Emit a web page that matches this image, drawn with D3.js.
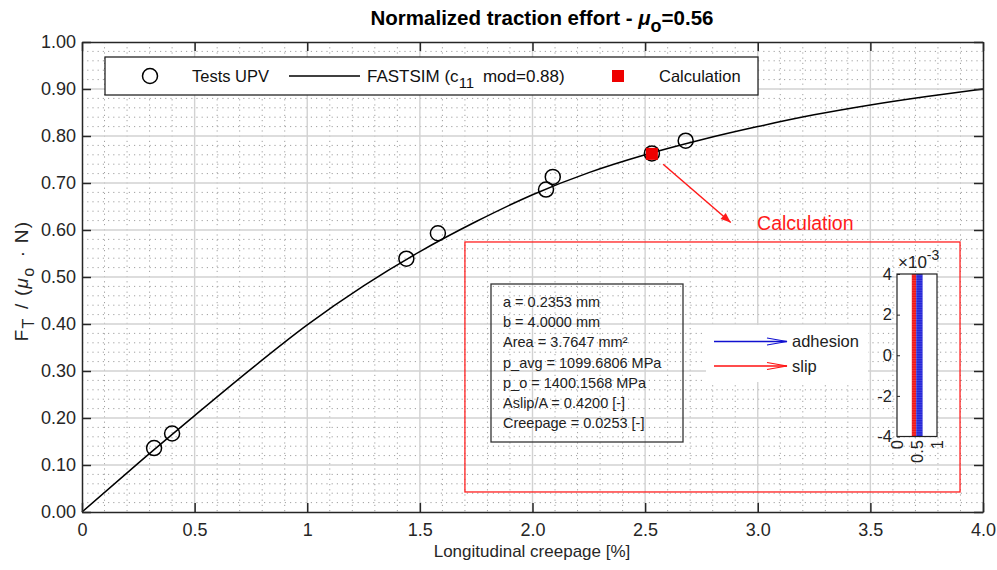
<!DOCTYPE html>
<html>
<head>
<meta charset="utf-8">
<script src="https://cdn.jsdelivr.net/npm/d3@7"></script>
<style>
  body { margin: 0; background: #fff; }
  svg { display: block; font-family: "Liberation Sans", Arial, sans-serif; }
</style>
</head>
<body>
<svg id="chart" width="997" height="570"></svg>
<script>
// --- data ---
const fastsimX = [0, 0.25, 0.5, 0.75, 1.0, 1.25, 1.5, 1.75, 2.0, 2.25, 2.5, 2.75, 3.0, 3.25, 3.5, 3.75, 4.0];
const fastsimY = [0, 0.104, 0.205, 0.304, 0.398, 0.481, 0.554, 0.618, 0.675, 0.722, 0.760, 0.792, 0.820, 0.845, 0.866, 0.884, 0.900];

const testX = [0.32, 0.40, 1.44, 1.58, 2.06, 2.09, 2.53, 2.68];
const testY = [0.136, 0.167, 0.539, 0.593, 0.686, 0.713, 0.763, 0.790];

const calcX = [2.53];
const calcY = [0.762];

const xTicks = [0, 0.5, 1, 1.5, 2, 2.5, 3, 3.5, 4];
const xTickLabels = ["0", "0.5", "1", "1.5", "2.0", "2.5", "3.0", "3.5", "4.0"];
const yTicks = [0, 0.1, 0.2, 0.3, 0.4, 0.5, 0.6, 0.7, 0.8, 0.9, 1.0];
const yTickLabels = ["0.00", "0.10", "0.20", "0.30", "0.40", "0.50", "0.60", "0.70", "0.80", "0.90", "1.00"];

const infoLines = [
  "a = 0.2353 mm",
  "b = 4.0000 mm",
  "Area = 3.7647 mm²",
  "p_avg = 1099.6806 MPa",
  "p_o = 1400.1568 MPa",
  "Aslip/A = 0.4200 [-]",
  "Creepage = 0.0253 [-]"
];

// contact patch inset: slip / adhesion bands (x in [0,1], y in m)
const slipBand = [0.37, 0.48];
const adhesionBand = [0.48, 0.64];
const patchY = [-0.004, 0.004];
const insetYTicks = [-0.004, -0.002, 0, 0.002, 0.004];
const insetYTickLabels = ["-4", "-2", "0", "2", "4"];
const insetXTicks = [0, 0.5, 1];
const insetXTickLabels = ["0", "0.5", "1"];

// --- layout ---
const plotL = 82, plotR = 983, plotT = 42, plotB = 512;
const axisColor = "#262626";

const svg = d3.select("#chart");

const x = d3.scaleLinear().domain([0, 4]).range([plotL, plotR]);
const y = d3.scaleLinear().domain([0, 1]).range([plotB, plotT]);

// grids
const grid = svg.append("g");
grid.selectAll(".minx")
  .data(d3.range(0, 4.0001, 0.1).filter((d) => Math.abs(d * 2 - Math.round(d * 2)) > 1e-6))
  .join("line")
  .attr("x1", (d) => x(d)).attr("x2", (d) => x(d))
  .attr("y1", plotT).attr("y2", plotB)
  .attr("stroke", "#a0a0a0").attr("stroke-dasharray", "1.2,4");
grid.selectAll(".miny")
  .data(d3.range(0, 1.0001, 0.02).filter((d) => Math.abs(d * 10 - Math.round(d * 10)) > 1e-6))
  .join("line")
  .attr("x1", plotL).attr("x2", plotR)
  .attr("y1", (d) => y(d)).attr("y2", (d) => y(d))
  .attr("stroke", "#a0a0a0").attr("stroke-dasharray", "1.2,4");
grid.selectAll(".majx")
  .data(xTicks.slice(1, -1))
  .join("line")
  .attr("x1", (d) => x(d)).attr("x2", (d) => x(d))
  .attr("y1", plotT).attr("y2", plotB)
  .attr("stroke", "#d2d2d2").attr("stroke-width", 1.4);
grid.selectAll(".majy")
  .data(yTicks.slice(1, -1))
  .join("line")
  .attr("x1", plotL).attr("x2", plotR)
  .attr("y1", (d) => y(d)).attr("y2", (d) => y(d))
  .attr("stroke", "#d2d2d2").attr("stroke-width", 1.4);

// --- annotation: red frame with contact patch details ---
const frame = { x0: 1.70, x1: 3.898, y0: 0.0426, y1: 0.5745 };
svg.append("rect")
  .attr("x", x(frame.x0)).attr("y", y(frame.y1))
  .attr("width", x(frame.x1) - x(frame.x0))
  .attr("height", y(frame.y0) - y(frame.y1))
  .attr("fill", "none").attr("stroke", "#ff2020").attr("stroke-width", 1.3);

// info text box
const bx = 491, by = 284, bw = 192, bh = 158;
svg.append("rect")
  .attr("x", bx).attr("y", by).attr("width", bw).attr("height", bh)
  .attr("fill", "none").attr("stroke", "#333").attr("stroke-width", 1.3);
svg.append("g").selectAll("text")
  .data(infoLines)
  .join("text")
  .attr("x", bx + 12)
  .attr("y", (d, i) => by + 23 + i * 20.2)
  .attr("font-size", 14.5)
  .attr("fill", "#222")
  .text((d) => d);

// adhesion / slip legend
const lg = svg.append("g");
lg.append("rect").attr("x", 706).attr("y", 325).attr("width", 162).attr("height", 57).attr("fill", "#fff");
const arrowRows = [
  { label: "adhesion", color: "#1010d0", yy: 341.5 },
  { label: "slip", color: "#ff1010", yy: 366 }
];
arrowRows.forEach((r) => {
  lg.append("line").attr("x1", 714).attr("x2", 787).attr("y1", r.yy).attr("y2", r.yy)
    .attr("stroke", r.color).attr("stroke-width", 1.4);
  lg.append("path")
    .attr("d", `M767,${r.yy - 3.5} L787,${r.yy} L767,${r.yy + 3.5}`)
    .attr("fill", "none").attr("stroke", r.color).attr("stroke-width", 1.2);
  lg.append("text").attr("x", 792).attr("y", r.yy + 5.5)
    .attr("font-size", 16.5).attr("fill", "#222").text(r.label);
});

// small contact patch axes
const ix = d3.scaleLinear().domain([0, 1]).range([897, 937]);
const iy = d3.scaleLinear().domain(patchY).range([436.5, 274]);
const inset = svg.append("g");
inset.append("rect").attr("x", 897).attr("y", 274).attr("width", 40).attr("height", 162.5).attr("fill", "#fff");
inset.append("rect")
  .attr("x", ix(slipBand[0])).attr("width", ix(slipBand[1]) - ix(slipBand[0]))
  .attr("y", iy(patchY[1])).attr("height", iy(patchY[0]) - iy(patchY[1]))
  .attr("fill", "#f01818");
inset.append("rect")
  .attr("x", ix(adhesionBand[0])).attr("width", ix(adhesionBand[1]) - ix(adhesionBand[0]))
  .attr("y", iy(patchY[1])).attr("height", iy(patchY[0]) - iy(patchY[1]))
  .attr("fill", "#2626d8");
// quiver texture
inset.selectAll(".tex")
  .data(d3.range(patchY[0], patchY[1], 0.00012))
  .join("line")
  .attr("x1", ix(slipBand[0])).attr("x2", ix(adhesionBand[1]))
  .attr("y1", (d) => iy(d)).attr("y2", (d) => iy(d))
  .attr("stroke", "#fff").attr("stroke-opacity", 0.25).attr("stroke-width", 0.6);
inset.append("rect").attr("x", 897).attr("y", 274).attr("width", 40).attr("height", 162.5)
  .attr("fill", "none").attr("stroke", "#222").attr("stroke-width", 1.2);

inset.append("g")
  .attr("transform", "translate(897,0)")
  .call(d3.axisLeft(iy).tickValues(insetYTicks).tickFormat((d, i) => insetYTickLabels[i]).tickSize(-3).tickPadding(5))
  .call((g) => g.select(".domain").remove())
  .call((g) => g.selectAll("line").attr("stroke", "#222"))
  .call((g) => g.selectAll("text").attr("font-size", 16.5).attr("fill", "#222").attr("font-family", null));

inset.append("g").selectAll("text")
  .data(insetXTicks)
  .join("text")
  .attr("transform", (d) => `translate(${ix(d)},440) rotate(-90)`)
  .attr("text-anchor", "end")
  .attr("dy", "0.35em")
  .attr("font-size", 16.5).attr("fill", "#222")
  .text((d, i) => insetXTickLabels[i]);

const mult = inset.append("text").attr("x", 898).attr("y", 268).attr("font-size", 17).attr("fill", "#222");
mult.append("tspan").text("×10");
mult.append("tspan").attr("dy", -8).attr("font-size", 14).text("-3");

// --- curve and points ---
const curveData = fastsimX.map((d, i) => [d, fastsimY[i]]);
svg.append("path")
  .datum(curveData)
  .attr("d", d3.line().x((d) => x(d[0])).y((d) => y(d[1])).curve(d3.curveMonotoneX))
  .attr("fill", "none").attr("stroke", "#000").attr("stroke-width", 1.5);

svg.append("g").selectAll("circle")
  .data(testX.map((d, i) => [d, testY[i]]))
  .join("circle")
  .attr("cx", (d) => x(d[0])).attr("cy", (d) => y(d[1]))
  .attr("r", 7.5)
  .attr("fill", "none").attr("stroke", "#000").attr("stroke-width", 1.5);

svg.append("g").selectAll("rect")
  .data(calcX.map((d, i) => [d, calcY[i]]))
  .join("rect")
  .attr("x", (d) => x(d[0]) - 6).attr("y", (d) => y(d[1]) - 6)
  .attr("width", 12).attr("height", 12)
  .attr("fill", "#ee0000");

// arrow to "Calculation"
const arrowFrom = [2.58, 0.74], arrowTo = [2.88, 0.616];
const ax0 = x(arrowFrom[0]), ay0 = y(arrowFrom[1]), ax1 = x(arrowTo[0]), ay1 = y(arrowTo[1]);
svg.append("line").attr("x1", ax0).attr("y1", ay0).attr("x2", ax1).attr("y2", ay1)
  .attr("stroke", "#ff1a1a").attr("stroke-width", 1.5);
const ang = Math.atan2(ay1 - ay0, ax1 - ax0);
const hl = 10, hw = 4;
const hp = [
  [ax1, ay1],
  [ax1 - hl * Math.cos(ang) + hw * Math.sin(ang), ay1 - hl * Math.sin(ang) - hw * Math.cos(ang)],
  [ax1 - hl * Math.cos(ang) - hw * Math.sin(ang), ay1 - hl * Math.sin(ang) + hw * Math.cos(ang)]
];
svg.append("path").attr("d", "M" + hp.join("L") + "Z").attr("fill", "#ff1a1a");
svg.append("text").attr("x", x(2.997)).attr("y", y(0.599))
  .attr("font-size", 19.5).attr("fill", "#ff1a1a").text("Calculation");

// --- axes ---
const fmtX = (d) => xTickLabels[xTicks.indexOf(d)];
const fmtY = (d) => yTickLabels[yTicks.indexOf(d)];

function styleAxis(g) {
  g.select(".domain").attr("stroke", axisColor).attr("stroke-width", 1.5);
  g.selectAll(".tick line").attr("stroke", axisColor).attr("stroke-width", 1.5);
  g.selectAll(".tick text").attr("font-size", 18).attr("fill", "#262626").attr("font-family", null);
}

svg.append("g").attr("transform", `translate(0,${plotB})`)
  .call(d3.axisBottom(x).tickValues(xTicks).tickFormat(fmtX).tickSize(-9).tickSizeOuter(0).tickPadding(11))
  .call(styleAxis);
svg.append("g").attr("transform", `translate(0,${plotT})`)
  .call(d3.axisTop(x).tickValues(xTicks).tickFormat("").tickSize(-9).tickSizeOuter(0))
  .call(styleAxis);
svg.append("g").attr("transform", `translate(${plotL},0)`)
  .call(d3.axisLeft(y).tickValues(yTicks).tickFormat(fmtY).tickSize(-9).tickSizeOuter(0).tickPadding(6))
  .call(styleAxis);
svg.append("g").attr("transform", `translate(${plotR},0)`)
  .call(d3.axisRight(y).tickValues(yTicks).tickFormat("").tickSize(-9).tickSizeOuter(0))
  .call(styleAxis);

// --- legend ---
const leg = svg.append("g");
leg.append("rect").attr("x", 105).attr("y", 57).attr("width", 653).attr("height", 38)
  .attr("fill", "#fff").attr("stroke", "#262626").attr("stroke-width", 1.3);
leg.append("circle").attr("cx", 150).attr("cy", 76).attr("r", 7.5)
  .attr("fill", "none").attr("stroke", "#000").attr("stroke-width", 1.5);
leg.append("text").attr("x", 192).attr("y", 82).attr("font-size", 16.5).attr("fill", "#111").text("Tests UPV");
leg.append("line").attr("x1", 289).attr("x2", 360).attr("y1", 76).attr("y2", 76)
  .attr("stroke", "#000").attr("stroke-width", 1.3);
const fs = leg.append("text").attr("x", 367).attr("y", 82).attr("font-size", 17).attr("fill", "#111");
fs.append("tspan").text("FASTSIM (c");
fs.append("tspan").attr("dy", 6).attr("font-size", 15).text("11");
fs.append("tspan").attr("dy", -6).attr("dx", 4).text(" mod=0.88)");
leg.append("rect").attr("x", 612).attr("y", 70).attr("width", 12).attr("height", 12).attr("fill", "#ee0000");
leg.append("text").attr("x", 659).attr("y", 82).attr("font-size", 16.5).attr("fill", "#111").text("Calculation");

// --- titles ---
const title = svg.append("text").attr("x", 542).attr("y", 25).attr("text-anchor", "middle")
  .attr("font-size", 20.5).attr("font-weight", "bold").attr("fill", "#000");
title.append("tspan").text("Normalized traction effort - ");
title.append("tspan").attr("font-style", "italic").text("μ");
title.append("tspan").attr("dy", 7).attr("font-size", 18).text("o");
title.append("tspan").attr("dy", -7).text("=0.56");

svg.append("text").attr("x", 532).attr("y", 557).attr("text-anchor", "middle")
  .attr("font-size", 17).attr("fill", "#262626").text("Longitudinal creepage [%]");

const yl = svg.append("text").attr("transform", "translate(28,281) rotate(-90)")
  .attr("text-anchor", "middle").attr("font-size", 19).attr("letter-spacing", 1.2).attr("fill", "#262626");
yl.append("tspan").text("F");
yl.append("tspan").attr("dy", 6).attr("font-size", 16).text("T");
yl.append("tspan").attr("dy", -6).attr("dx", 2).text(" / (");
yl.append("tspan").attr("font-style", "italic").text("μ");
yl.append("tspan").attr("dy", 6).attr("font-size", 16).text("o");
yl.append("tspan").attr("dy", -6).attr("dx", 3).text(" · N)");
</script>
</body>
</html>
